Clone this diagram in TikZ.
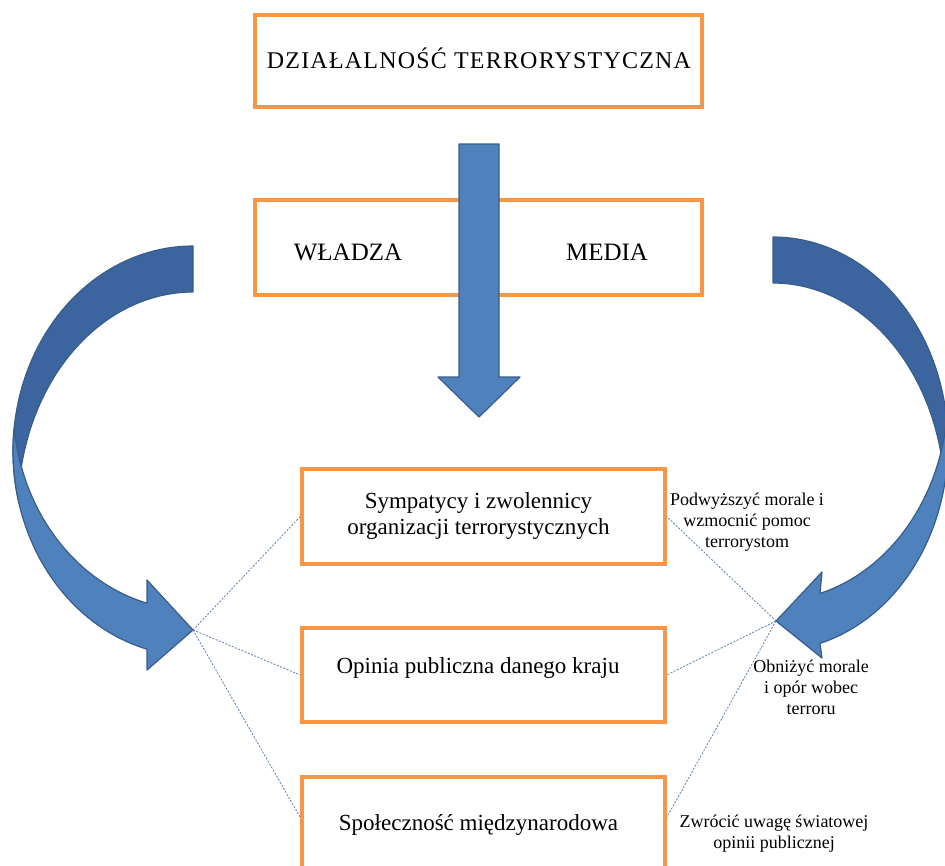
\documentclass[tikz,border=0pt]{standalone}
\usepackage{fontspec}
\setmainfont{Liberation Serif}
\definecolor{boxorange}{RGB}{247,150,70}
\definecolor{arrowfill}{RGB}{79,129,189}
\definecolor{arrowdark}{RGB}{60,100,158}
\definecolor{arrowedge}{RGB}{56,93,138}
\definecolor{linkblue}{RGB}{95,125,175}
\begin{document}
\begin{tikzpicture}[x=1pt,y=-1pt,
  box/.style={draw=boxorange, line width=3.4pt, rectangle, inner sep=0pt, fill=white},
  bigtxt/.style={inner sep=0pt, font=\fontsize{25}{30}\selectfont},
  boxtxt/.style={inner sep=0pt, align=center, font=\fontsize{23}{26}\selectfont},
  smalltxt/.style={inner sep=0pt, align=center, font=\fontsize{18}{21}\selectfont},
  link/.style={draw=linkblue, line width=0.8pt, dash pattern=on 2pt off 1.5pt},
  arrowpart/.style={draw=arrowedge, line width=1.2pt, line join=round}]
\useasboundingbox (0,0) rectangle (945,865);
\clip (0,0) rectangle (945,865);
\fill[white] (0,0) rectangle (945,865);

% boxes
\node[box, minimum width=447pt, minimum height=92pt] (b1) at (478.5,61) {};
\node[box, minimum width=447pt, minimum height=95pt] (b2) at (478.5,247.5) {};
\node[box, minimum width=363pt, minimum height=95pt] (b3) at (483.5,516.5) {};
\node[box, minimum width=363pt, minimum height=94pt] (b4) at (483.5,675) {};
\node[box, minimum width=363pt, minimum height=95pt] (b5) at (483.5,824.5) {};

% texts
\node[inner sep=0pt, font=\fontsize{24}{28}\selectfont\addfontfeature{LetterSpace=5}] (t1) at (479,58) {DZIAŁALNOŚĆ TERRORYSTYCZNA};
\node[bigtxt] (tw) at (348,252) {WŁADZA};
\node[bigtxt] (tm) at (607,252) {MEDIA};
\node[boxtxt] (t3) at (478.5,516) {Sympatycy i zwolennicy\\organizacji terrorystycznych};
\node[boxtxt] (t4) at (478,668) {Opinia publiczna danego kraju};
\node[boxtxt] (t5) at (478.5,825) {Społeczność międzynarodowa};

% straight arrow
\filldraw[arrowpart, fill=arrowfill]
  (459,144) -- (499,144) -- (499,377) -- (520,377) -- (479,417)
  -- (438,377) -- (459,377) -- cycle;

% left curved arrow: back face (dark)
\filldraw[arrowpart, fill=arrowdark]
  plot[domain=90:193.8, samples=50] ({193+180*cos(\x)},{451-205*sin(\x)})
  -- plot[domain=177.6:90, samples=50] ({193+175*cos(\x)},{509-217*sin(\x)}) -- cycle;
% left curved arrow: front face with head (light)
\filldraw[arrowpart, fill=arrowfill]
  plot[domain=173.56:255.2, samples=50] ({193+180*cos(\x)},{451-205*sin(\x)})
  -- (147,670) -- (193,630) -- (147,580)
  -- plot[domain=255.2:186.44, samples=50] ({193+180*cos(\x)},{405-205*sin(\x)}) -- cycle;

% right curved arrow: back face (dark)
\filldraw[arrowpart, fill=arrowdark]
  plot[domain=90:-11.4, samples=50] ({773+175*cos(\x)},{444-207*sin(\x)})
  -- plot[domain=3.96:90, samples=50] ({773+172*cos(\x)},{500-217*sin(\x)}) -- cycle;
% right curved arrow: front face with head (light)
\filldraw[arrowpart, fill=arrowfill]
  plot[domain=6.94:-74.42, samples=50] ({773+175*cos(\x)},{444-207*sin(\x)})
  -- (822,658) -- (776,621) -- (822,572)
  -- plot[domain=-74.42:-6.94, samples=50] ({773+175*cos(\x)},{394-207*sin(\x)}) -- cycle;

\coordinate (ltip) at (193,630);
\coordinate (rtip) at (776,621);

% dotted connectors
\draw[link] (ltip) -- (b3.west);
\draw[link] (ltip) -- (b4.west);
\draw[link] (ltip) -- ([yshift=7pt]b5.west);
\draw[link] (rtip) -- (b3.east);
\draw[link] (rtip) -- (b4.east);
\draw[link] (rtip) -- ([yshift=7pt]b5.east);

% labels
\node[smalltxt] (l1) at (747,522) {Podwyższyć morale i\\wzmocnić pomoc\\terrorystom};
\node[smalltxt] (l2) at (811,687) {Obniżyć morale\\i opór wobec\\terroru};
\node[smalltxt] (l3) at (774,834) {Zwrócić uwagę światowej\\opinii publicznej};
\end{tikzpicture}
\end{document}
